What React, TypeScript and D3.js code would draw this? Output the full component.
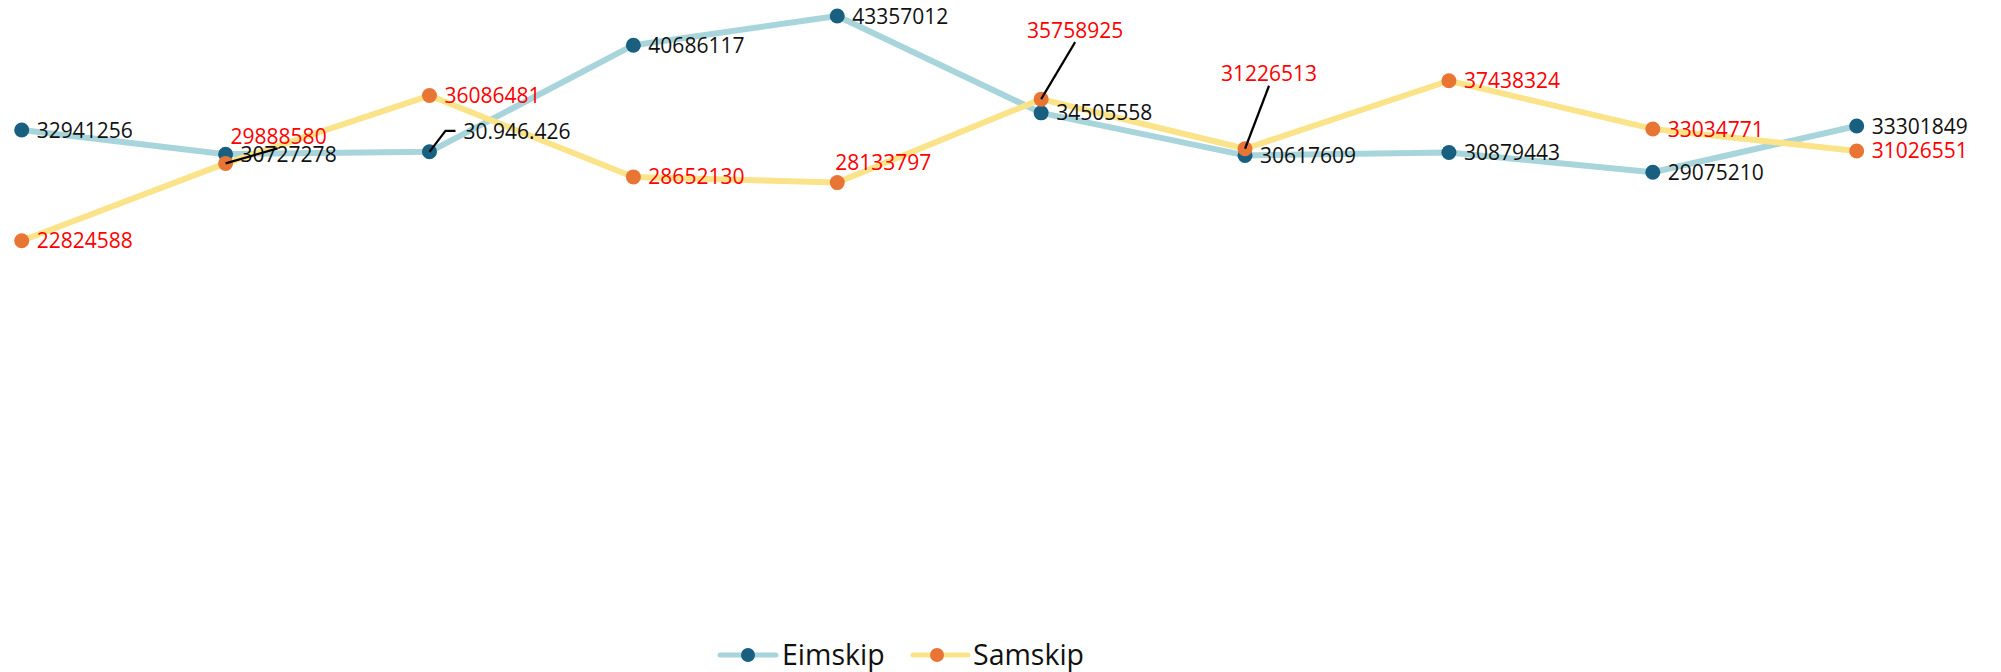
import React from "react";
import * as d3 from "d3";

const categories = ["1", "2", "3", "4", "5", "6", "7", "8", "9", "10"];
const seriesNames = ["Eimskip", "Samskip"];
const eimskipValues = [32941256, 30727278, 30946426, 40686117, 43357012, 34505558, 30617609, 30879443, 29075210, 33301849];
const samskipValues = [22824588, 29888580, 36086481, 28652130, 28133797, 35758925, 31226513, 37438324, 33034771, 31026551];
const eimskipLabels = ["32941256", "30727278", "30.946.426", "40686117", "43357012", "34505558", "30617609", "30879443", "29075210", "33301849"];
const samskipLabels = ["22824588", "29888580", "36086481", "28652130", "28133797", "35758925", "31226513", "37438324", "33034771", "31026551"];

const W = 2001;
const H = 672;
const FONT = "'Open Sans', 'Liberation Sans', Arial, sans-serif";
const LABEL_SIZE = 21;

type Override = {
  dx: number;
  dy: number;
  anchor: "start" | "middle";
  leader?: [number, number][];
};

// label placement overrides (offsets from the point)
const eimskipOverrides: Record<number, Override> = {
  2: { dx: 34, dy: -20, anchor: "start", leader: [[0, 0], [16, -21], [26, -21]] },
};
const samskipOverrides: Record<number, Override> = {
  1: { dx: 5, dy: -27, anchor: "start", leader: [[0, 0], [52, -15]] },
  4: { dx: -2, dy: -20, anchor: "start" },
  5: { dx: 34, dy: -69, anchor: "middle", leader: [[0, 0], [34, -57]] },
  6: { dx: 24, dy: -75, anchor: "middle", leader: [[0, 0], [24, -63]] },
};

const series = [
  { name: seriesNames[0], values: eimskipValues, labels: eimskipLabels, line: "#a8d5db", dot: "#185f80", text: "#111111", overrides: eimskipOverrides },
  { name: seriesNames[1], values: samskipValues, labels: samskipLabels, line: "#fbe38a", dot: "#e97535", text: "#ff0000", overrides: samskipOverrides },
];

export default function App() {
  const x = d3.scalePoint<string>().domain(categories).range([21.7, 1856.7]);
  const y = d3.scaleLinear().domain([0, 45000000]).range([490.5, -2]);
  const line = d3
    .line<number>()
    .x((_, i) => x(categories[i]) as number)
    .y((v) => y(v));
  const leaderLine = d3.line<[number, number]>();

  const legendItems = [
    { x0: 720, cx: 748, x1: 776, tx: 782 },
    { x0: 913, cx: 937, x1: 968, tx: 973 },
  ];
  const legendY = 655;

  return (
    <svg
      width={W}
      height={H}
      style={{ position: "absolute", left: 0, top: 0, background: "#ffffff" }}
      fontFamily={FONT}
    >
      {series.map((s) => (
        <path key={s.name + "-line"} d={line(s.values) || ""} fill="none" stroke={s.line} strokeWidth={6} strokeLinejoin="round" strokeLinecap="round" />
      ))}
      {series.map((s) => (
        <g key={s.name + "-dots"}>
          {s.values.map((v, i) => (
            <circle key={i} cx={x(categories[i])} cy={y(v)} r={7.5} fill={s.dot} />
          ))}
        </g>
      ))}
      {series.map((s) => (
        <g key={s.name + "-labels"}>
          {s.values.map((v, i) => {
            const px = x(categories[i]) as number;
            const py = y(v);
            const o = s.overrides[i];
            if (!o) {
              return (
                <text key={i} x={px + 15} y={py} dy="0.36em" fontSize={LABEL_SIZE} fill={s.text}>
                  {s.labels[i]}
                </text>
              );
            }
            const pts = (o.leader || []).map(([a, b]) => [px + a, py + b] as [number, number]);
            return (
              <g key={i}>
                {o.leader && <path d={leaderLine(pts) || ""} fill="none" stroke="#000" strokeWidth={2.2} />}
                <text x={px + o.dx} y={py + o.dy} dy="0.36em" fontSize={LABEL_SIZE} fill={s.text} textAnchor={o.anchor}>
                  {s.labels[i]}
                </text>
              </g>
            );
          })}
        </g>
      ))}
      {series.map((s, k) => {
        const L = legendItems[k];
        return (
          <g key={s.name + "-legend"}>
            <line x1={L.x0} x2={L.x1} y1={legendY} y2={legendY} stroke={s.line} strokeWidth={5} strokeLinecap="round" />
            <circle cx={L.cx} cy={legendY} r={7} fill={s.dot} />
            <text x={L.tx} y={legendY} dy="0.36em" fontSize={28.5} fill="#111">
              {s.name}
            </text>
          </g>
        );
      })}
    </svg>
  );
}
